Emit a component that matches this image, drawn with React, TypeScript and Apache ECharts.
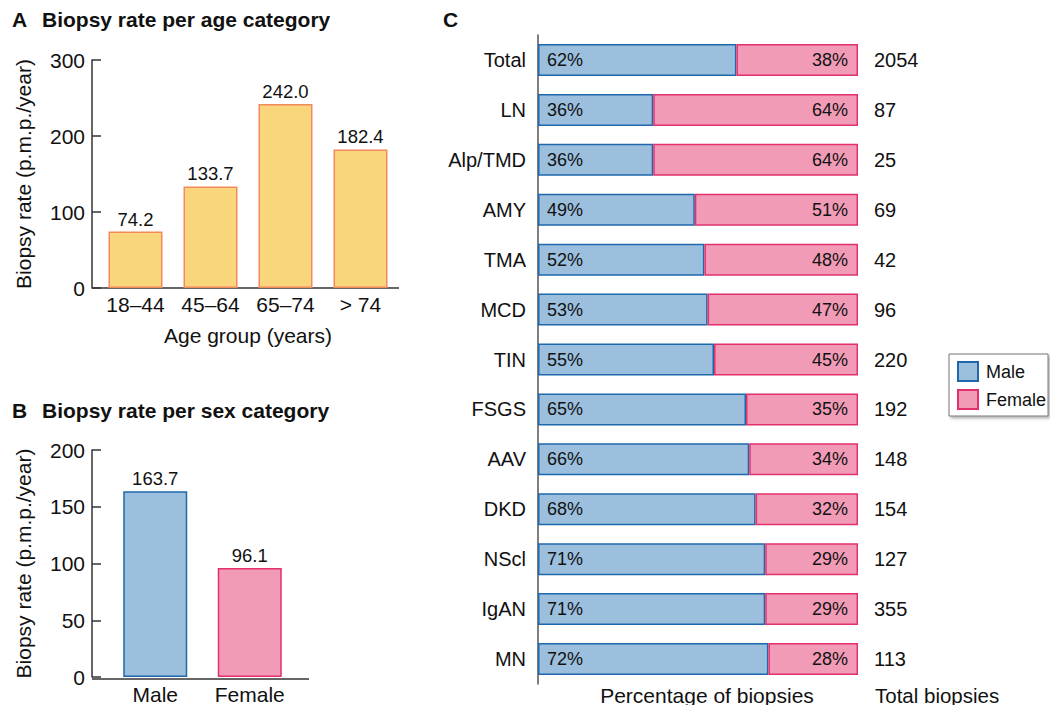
import React, { useEffect, useRef } from "react";
import * as echarts from "echarts";

const ageGroups = ["18–44", "45–64", "65–74", "> 74"];
const ageRates = [74.2, 133.7, 242.0, 182.4];
const sexCategories = ["Male", "Female"];
const sexRates = [163.7, 96.1];
const diagnoses = ["Total", "LN", "Alp/TMD", "AMY", "TMA", "MCD", "TIN", "FSGS", "AAV", "DKD", "NScl", "IgAN", "MN"];
const malePct = [62, 36, 36, 49, 52, 53, 55, 65, 66, 68, 71, 71, 72];
const femalePct = [38, 64, 64, 51, 48, 47, 45, 35, 34, 32, 29, 29, 28];
const totalBiopsies = [2054, 87, 25, 69, 42, 96, 220, 192, 148, 154, 127, 355, 113];

const FONT = "'Liberation Sans', Arial, sans-serif";
const TXT = "#111";
const AX = "#333";
const MALE_FILL = "#9BBFDD";
const MALE_BORDER = "#1F68AC";
const FEMALE_FILL = "#F29BB7";
const FEMALE_BORDER = "#E2306C";
const AGE_FILL = "#F9D67B";
const AGE_BORDER = "#F28A5E";

export default function App() {
  const ref = useRef<HTMLDivElement>(null);
  useEffect(() => {
    document.body.style.margin = "0";
    const chart = echarts.init(ref.current!, null, { renderer: "svg" });
    const yAxisBase = (max: number, interval: number, offset: number, grid: number) => ({
      gridIndex: grid,
      type: "value",
      min: 0,
      max,
      interval,
      offset,
      axisLine: { show: true, lineStyle: { color: AX, width: 1.5 } },
      axisTick: { show: true, inside: true, length: 9, lineStyle: { color: AX, width: 1.5 } },
      splitLine: { show: false },
      axisLabel: { fontSize: 21, color: TXT, margin: 7, fontFamily: FONT },
      name: "Biopsy rate (p.m.p./year)",
      nameLocation: "middle",
      nameGap: 58,
      nameTextStyle: { fontSize: 21, color: TXT, fontFamily: FONT },
    });
    const titleStyle = { fontSize: 21, fontWeight: "bold", color: TXT, fontFamily: FONT };
    const option: any = {
      animation: false,
      backgroundColor: "#fff",
      title: [
        { text: "A", left: 12, top: 9, padding: 0, textStyle: titleStyle },
        { text: "Biopsy rate per age category", left: 42, top: 9, padding: 0, textStyle: titleStyle },
        { text: "B", left: 12, top: 400, padding: 0, textStyle: titleStyle },
        { text: "Biopsy rate per sex category", left: 42, top: 400, padding: 0, textStyle: titleStyle },
        { text: "C", left: 443, top: 9, padding: 0, textStyle: titleStyle },
      ],
      grid: [
        { left: 98, top: 60, width: 300, height: 228 },
        { left: 108, top: 450, width: 189, height: 229 },
        { left: 538, top: 35, width: 320, height: 649 },
      ],
      xAxis: [
        {
          gridIndex: 0,
          type: "category",
          data: ageGroups,
          axisLine: { show: false },
          axisTick: { show: false },
          axisLabel: { fontSize: 21, color: TXT, margin: 6, fontFamily: FONT, interval: 0 },
          name: "Age group (years)",
          nameLocation: "middle",
          nameGap: 37,
          nameTextStyle: { fontSize: 21, color: TXT, fontFamily: FONT },
        },
        {
          gridIndex: 1,
          type: "category",
          data: sexCategories,
          axisLine: { show: false },
          axisTick: { show: false },
          axisLabel: { fontSize: 21, color: TXT, margin: 7, fontFamily: FONT, interval: 0 },
        },
        { gridIndex: 2, type: "value", min: 0, max: 100, show: false },
      ],
      yAxis: [
        yAxisBase(300, 100, 6, 0),
        yAxisBase(200, 50, 16, 1),
        {
          gridIndex: 2,
          type: "category",
          data: diagnoses,
          inverse: true,
          axisLine: { show: true, lineStyle: { color: "#555", width: 1.5 } },
          axisTick: { show: false },
          axisLabel: { fontSize: 20, color: TXT, margin: 12, fontFamily: FONT, interval: 0 },
        },
        {
          gridIndex: 2,
          type: "category",
          data: totalBiopsies.map(String),
          inverse: true,
          position: "right",
          axisLine: { show: false },
          axisTick: { show: false },
          axisLabel: { fontSize: 20, color: TXT, margin: 16, align: "left", fontFamily: FONT, interval: 0 },
        },
      ],
      legend: {
        data: ["Male", "Female"],
        orient: "vertical",
        left: 949,
        top: 354,
        icon: "rect",
        itemWidth: 20,
        itemHeight: 19,
        itemGap: 7,
        padding: [7, 2, 6, 8],
        borderColor: "#777",
        borderWidth: 1,
        backgroundColor: "#fff",
        shadowColor: "rgba(0,0,0,0.3)",
        shadowBlur: 3,
        shadowOffsetX: 2,
        shadowOffsetY: 2,
        textStyle: { fontSize: 18, color: TXT, fontFamily: FONT, padding: [0, 0, 0, 3] },
      },
      graphic: [
        { type: "line", shape: { x1: 92, y1: 288, x2: 399, y2: 288 }, style: { stroke: AX, lineWidth: 1.5 } },
        { type: "line", shape: { x1: 92, y1: 679, x2: 309, y2: 679 }, style: { stroke: AX, lineWidth: 1.5 } },
        {
          type: "text",
          x: 707,
          y: 695,
          style: { text: "Percentage of biopsies", fontSize: 21, fill: TXT, fontFamily: FONT, textAlign: "center", textVerticalAlign: "middle" },
        },
        {
          type: "text",
          x: 875,
          y: 695,
          style: { text: "Total biopsies", fontSize: 20.5, fill: TXT, fontFamily: FONT, textAlign: "left", textVerticalAlign: "middle" },
        },
      ],
      series: [
        {
          name: "Age",
          type: "bar",
          xAxisIndex: 0,
          yAxisIndex: 0,
          data: ageRates,
          barWidth: 54,
          itemStyle: { color: AGE_FILL, borderColor: AGE_BORDER, borderWidth: 1.5 },
          label: {
            show: true,
            position: "top",
            distance: 3,
            fontSize: 18.5,
            color: TXT,
            fontFamily: FONT,
            formatter: (p: any) => Number(p.value).toFixed(1),
          },
        },
        {
          name: "Sex",
          type: "bar",
          xAxisIndex: 1,
          yAxisIndex: 1,
          data: sexRates.map((v, i) => ({
            value: v,
            itemStyle:
              i === 0
                ? { color: MALE_FILL, borderColor: MALE_BORDER, borderWidth: 1.5 }
                : { color: FEMALE_FILL, borderColor: FEMALE_BORDER, borderWidth: 1.5 },
          })),
          barWidth: 64,
          label: {
            show: true,
            position: "top",
            distance: 3,
            fontSize: 18.5,
            color: TXT,
            fontFamily: FONT,
            formatter: (p: any) => Number(p.value).toFixed(1),
          },
        },
        {
          name: "Male",
          type: "bar",
          xAxisIndex: 2,
          yAxisIndex: 2,
          stack: "pct",
          data: malePct,
          barWidth: 32,
          itemStyle: { color: MALE_FILL, borderColor: MALE_BORDER, borderWidth: 1.5 },
          label: { show: true, position: "insideLeft", distance: 9, formatter: "{c}%", fontSize: 18, color: TXT, fontFamily: FONT },
        },
        {
          name: "Female",
          type: "bar",
          xAxisIndex: 2,
          yAxisIndex: 2,
          stack: "pct",
          data: femalePct,
          barWidth: 32,
          itemStyle: { color: FEMALE_FILL, borderColor: FEMALE_BORDER, borderWidth: 1.5 },
          label: { show: true, position: "insideRight", distance: 10, formatter: "{c}%", fontSize: 18, color: TXT, fontFamily: FONT },
        },
      ],
    };
    chart.setOption(option);
    return () => chart.dispose();
  }, []);
  return <div ref={ref} style={{ position: "fixed", left: 0, top: 0, width: 1050, height: 705 }} />;
}
